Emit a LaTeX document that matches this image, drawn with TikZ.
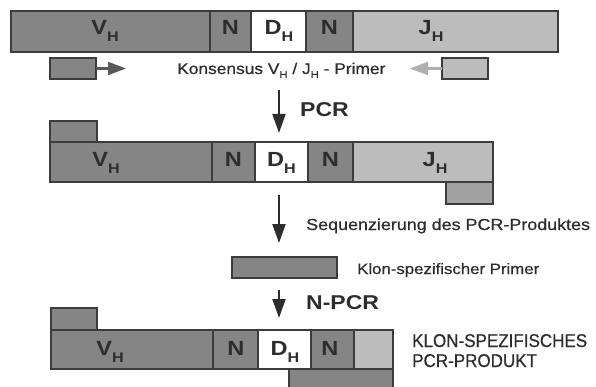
\documentclass[tikz,border=0pt]{standalone}
\usepackage{fontspec}
\setmainfont{Liberation Sans}
\newfontfamily\widef{Liberation Sans}[FakeStretch=1.15]
\newfontfamily\medf{Liberation Sans}[FakeStretch=1.12,FakeBold=0.6]
\newfontfamily\narrowf{Liberation Sans}[FakeStretch=0.92,FakeBold=0.6]
\usetikzlibrary{arrows.meta}
\definecolor{segdark}{RGB}{133,133,133}
\definecolor{seglight}{RGB}{188,188,188}
\definecolor{segmid}{RGB}{162,162,162}
\definecolor{bordercol}{RGB}{60,60,60}
\definecolor{textcol}{RGB}{45,45,45}
\definecolor{arrowlight}{RGB}{175,175,175}
\newcommand\subH{\raisebox{-7pt}{\fontsize{14}{14}\selectfont H}}
\newcommand\segbox[6]{\node[segsty,fill=#6,minimum width={(#4-#2)*1pt},minimum height={(#5-#3)*1pt},anchor=north west] (#1) at (#2,#3) {};}
\tikzset{
  segsty/.style={draw=bordercol,line width=1.5pt,inner sep=0pt,outer sep=0pt},
  seglabel/.style={anchor=base,inner sep=0pt,text=textcol,font=\widef\bfseries\fontsize{20.5}{20.5}\selectfont},
  plaintext/.style={anchor=base west,inner sep=0pt,text=textcol},
  downarrow/.style={draw=textcol,line width=2pt,-{Triangle[length=19pt,width=13pt]}},
  primerarrow/.style={line width=2.2pt,-{Triangle[length=18pt,width=13pt]}}
}
\begin{document}
\begin{tikzpicture}[x=1pt,y=-1pt]
\useasboundingbox (0,0) rectangle (596,387);
\fill[white] (0,0) rectangle (596,387);

% Row 1
\segbox{r1v}{11}{11}{210}{52}{segdark}
\segbox{r1n1}{210}{11}{251}{52}{segdark}
\segbox{r1d}{251}{11}{306}{52}{white}
\segbox{r1n2}{306}{11}{353}{52}{segdark}
\segbox{r1j}{353}{11}{558}{52}{seglight}
\node[seglabel] (l1v) at (105,35) {V\subH};
\node[seglabel] (l1n1) at (230.5,35) {N};
\node[seglabel] (l1d) at (279,35) {D\subH};
\node[seglabel] (l1n2) at (329.5,35) {N};
\node[seglabel] (l1j) at (431,35) {J\subH};

% primers
\segbox{lp}{50}{58}{96}{79}{segdark}
\segbox{rp}{442}{58}{488}{79}{seglight}
\coordinate (lptip) at (126,68.5);
\coordinate (rptip) at (410,68.5);
\draw[primerarrow,draw=bordercol!85,fill=bordercol!85] (lp.east) -- (lptip);
\draw[primerarrow,draw=arrowlight,fill=arrowlight] (rp.west) -- (rptip);
\node[plaintext,font=\medf\fontsize{15.5}{15.5}\selectfont] (kons) at (177,74) {Konsensus V\raisebox{-4pt}{\fontsize{10}{10}\selectfont H} / J\raisebox{-4pt}{\fontsize{10}{10}\selectfont H} - Primer};

% arrow PCR
\coordinate (a1s) at (279,90);
\coordinate (a1e) at (279,133);
\draw[downarrow] (a1s) -- (a1e);
\node[plaintext,font=\widef\bfseries\fontsize{20}{20}\selectfont] (pcr) at (300,117) {PCR};

% Row 2
\segbox{r2top}{50}{121}{97}{142}{segdark}
\segbox{r2v}{50}{142}{212}{182}{segdark}
\segbox{r2n1}{212}{142}{255}{182}{segdark}
\segbox{r2d}{255}{142}{308}{182}{white}
\segbox{r2n2}{308}{142}{353}{182}{segdark}
\segbox{r2j}{353}{142}{493}{182}{seglight}
\segbox{r2bot}{446}{182}{493}{204}{segmid}
\node[seglabel] (l2v) at (106,167) {V\subH};
\node[seglabel] (l2n1) at (233.5,167) {N};
\node[seglabel] (l2d) at (281.5,167) {D\subH};
\node[seglabel] (l2n2) at (330.5,167) {N};
\node[seglabel] (l2j) at (435,167) {J\subH};

% arrow sequencing
\coordinate (a2s) at (279,195);
\coordinate (a2e) at (279,243);
\draw[downarrow] (a2s) -- (a2e);
\node[plaintext,font=\medf\fontsize{16}{16}\selectfont] (seq) at (306,230) {Sequenzierung des PCR-Produktes};

% clone specific primer
\segbox{kp}{232}{257}{337}{278}{segdark}
\node[plaintext,font=\medf\fontsize{15}{15}\selectfont] (kpt) at (357,274) {Klon-spezifischer Primer};

% arrow N-PCR
\coordinate (a3s) at (279,290);
\coordinate (a3e) at (279,318);
\draw[downarrow] (a3s) -- (a3e);
\node[plaintext,font=\widef\bfseries\fontsize{20}{20}\selectfont] (npcr) at (306,309) {N-PCR};

% Row 3
\segbox{r3top}{51}{308}{97}{330}{segdark}
\segbox{r3v}{51}{330}{213}{369}{segdark}
\segbox{r3n1}{213}{330}{258}{369}{segdark}
\segbox{r3d}{258}{330}{311}{369}{white}
\segbox{r3n2}{311}{330}{354}{369}{segdark}
\segbox{r3j}{354}{330}{393}{369}{seglight}
\segbox{r3bot}{289}{369}{393}{390}{segdark}
\node[seglabel] (l3v) at (110,355) {V\subH};
\node[seglabel] (l3n1) at (236,355) {N};
\node[seglabel] (l3d) at (285,355) {D\subH};
\node[seglabel] (l3n2) at (330,355) {N};

\node[plaintext,font=\narrowf\fontsize{18.5}{18.5}\selectfont] (klon1) at (412,347) {KLON-SPEZIFISCHES};
\node[plaintext,font=\narrowf\fontsize{18.5}{18.5}\selectfont] (klon2) at (412,367) {PCR-PRODUKT};
\end{tikzpicture}
\end{document}
